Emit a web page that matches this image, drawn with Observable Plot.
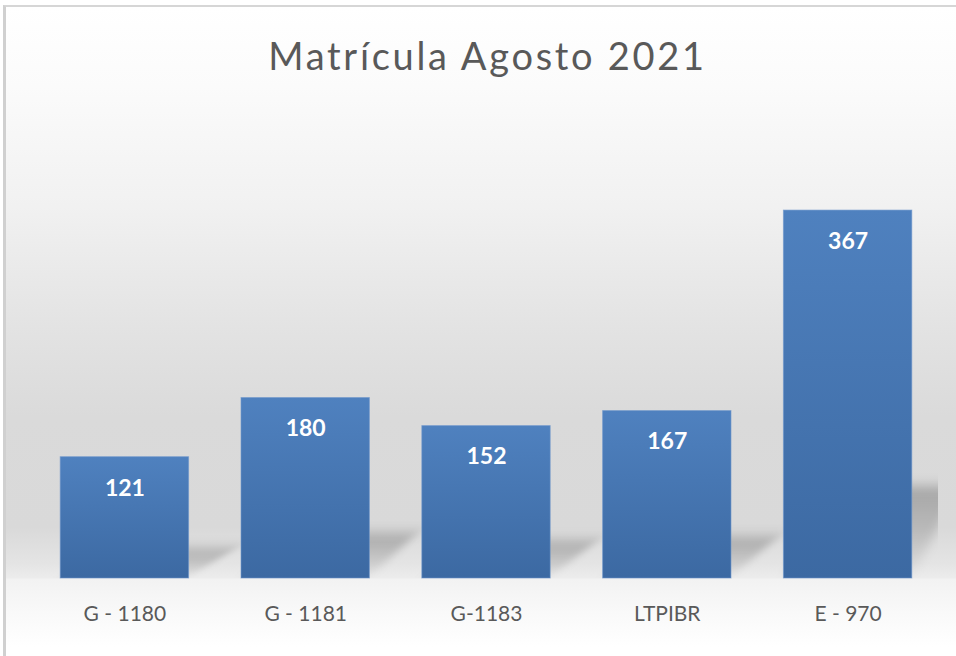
<!DOCTYPE html>
<html>
<head>
<meta charset="utf-8">
<script src="https://cdn.jsdelivr.net/npm/d3@7"></script>
<script src="https://cdn.jsdelivr.net/npm/@observablehq/plot@0.6"></script>
<style>
  html, body { margin: 0; padding: 0; background: #ffffff; overflow: hidden; }
  #page { position: relative; width: 956px; height: 656px; overflow: hidden; }
  #frame {
    position: absolute; left: 3px; top: 5px; width: 970px; height: 670px;
    border-top: 2px solid #d6d6d6; border-left: 3px solid #d0d0d0;
    background: linear-gradient(to bottom,
      #ffffff 0px, #fbfbfb 80px, #f1f1f1 200px, #e3e3e3 320px, #dadada 410px,
      #d9d9d9 520px, #e4e4e4 556px, #ececec 571px, #f2f2f2 572px, #f9f9f9 605px, #ffffff 640px);
  }
  #title {
    position: absolute; left: 0; top: 36px; width: 975px; text-align: center;
    font-family: Lato, "Open Sans", sans-serif; font-size: 38px; line-height: 1;
    letter-spacing: 2.7px; color: #595959; white-space: nowrap;
  }
  #chart { position: absolute; left: 0; top: 0; }
</style>
</head>
<body>
<div id="page">
  <div id="frame"></div>
  <div id="title">Matrícula Agosto 2021</div>
  <div id="chart"></div>
</div>
<script>
// ---- data ----
const categories = ["G - 1180", "G - 1181", "G-1183", "LTPIBR", "E - 970"];
const values = [121, 180, 152, 167, 367];
const yDomain = [0, 400];

const data = categories.map((c, i) => ({cat: c, value: values[i]}));

const plot = Plot.plot({
  width: 956,
  height: 656,
  marginTop: 177,
  marginBottom: 78,
  marginLeft: 34,
  marginRight: 18,
  style: {background: "transparent", fontFamily: "Lato, 'Open Sans', sans-serif", overflow: "visible"},
  x: {domain: categories, paddingInner: 0.29, paddingOuter: 0.145, round: false, axis: null},
  y: {domain: yDomain, axis: null},
  marks: [
    // soft perspective shadow
    Plot.barY(data, {x: "cat", y: d => d.value * 0.25, fill: "url(#shadowGrad)", clip: true}),
    // bars
    Plot.barY(data, {x: "cat", y: "value", fill: "url(#barGrad)", stroke: "#6a94cb", strokeOpacity: 0.6, strokeWidth: 1}),
    // value labels
    Plot.text(data, {x: "cat", y: "value", text: d => String(d.value), dy: 31,
      fill: "#ffffff", fontSize: 23, fontWeight: "bold"}),
    // category labels
    Plot.text(data, {x: "cat", frameAnchor: "bottom", text: "cat", dy: 42,
      fill: "#595959", fontSize: 21})
  ]
});

document.getElementById("chart").appendChild(plot);

// gradients & filter
const svg = d3.select(plot);
const defs = svg.insert("defs", ":first-child");
const bg = defs.append("linearGradient").attr("id", "barGrad")
  .attr("x1", 0).attr("y1", 0).attr("x2", 0).attr("y2", 1);
bg.append("stop").attr("offset", "0%").attr("stop-color", "#4f81bf");
bg.append("stop").attr("offset", "100%").attr("stop-color", "#3c69a2");
const sg = defs.append("linearGradient").attr("id", "shadowGrad")
  .attr("x1", 0).attr("y1", 0).attr("x2", 0).attr("y2", 1);
sg.append("stop").attr("offset", "0%").attr("stop-color", "#000").attr("stop-opacity", 0.24);
sg.append("stop").attr("offset", "55%").attr("stop-color", "#000").attr("stop-opacity", 0.13);
sg.append("stop").attr("offset", "100%").attr("stop-color", "#000").attr("stop-opacity", 0.02);
defs.append("filter").attr("id", "blur").attr("x", "-50%").attr("y", "-50%").attr("width", "200%").attr("height", "200%")
  .append("feGaussianBlur").attr("stdDeviation", 6);

// skew the shadow bars so they lean back to the right
const barGroups = svg.selectAll('g[aria-label="bar"]').nodes();
if (barGroups.length) {
  d3.select(barGroups[0]).selectAll("rect").each(function() {
    const r = d3.select(this);
    const y = +r.attr("y"), h = +r.attr("height");
    const yb = y + h;
    const s = 48;
    const ang = -Math.atan(s / h) * 180 / Math.PI;
    r.attr("transform", `translate(0,${yb}) skewX(${ang}) translate(0,${-yb})`)
     .attr("filter", "url(#blur)");
  });
}
</script>
</body>
</html>
